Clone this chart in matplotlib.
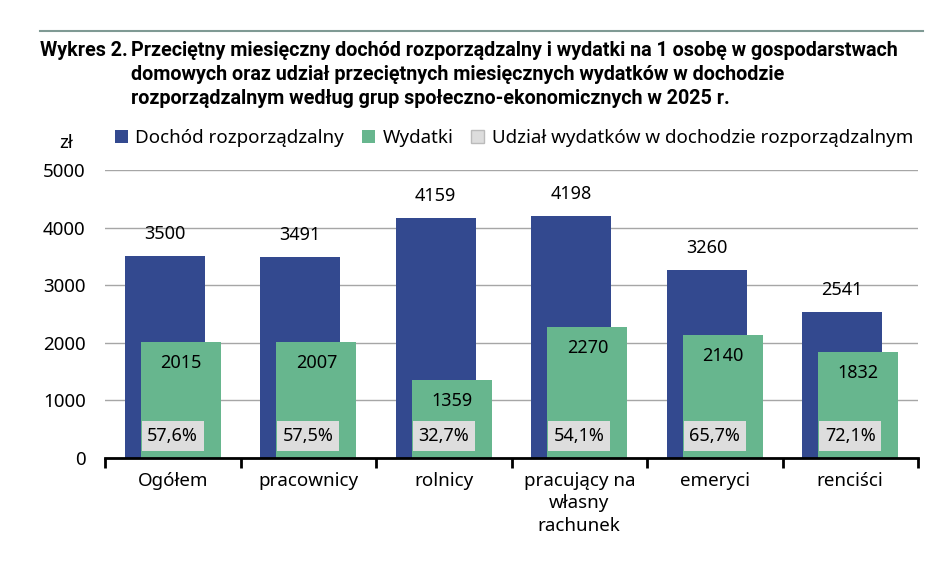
import matplotlib.pyplot as plt
from matplotlib.patches import Patch
import numpy as np

# data
categories = ['Ogółem', 'pracownicy', 'rolnicy', 'pracujący na\nwłasny\nrachunek', 'emeryci', 'renciści']
dochod = [3500, 3491, 4159, 4198, 3260, 2541]
wydatki = [2015, 2007, 1359, 2270, 2140, 1832]
udzial = [57.6, 57.5, 32.7, 54.1, 65.7, 72.1]

blue = '#33498f'
green = '#67b68e'
grey = '#dddddd'

plt.rcParams['font.family'] = ['Noto Sans', 'DejaVu Sans']

fig = plt.figure(figsize=(9.45, 5.62), dpi=100)
ax = fig.add_axes([105/945, 1 - 458/562, 813/945, 288/562])

x = np.arange(len(categories))
w = 0.59
off = 0.06
ax.bar(x - off, dochod, w, color=blue, zorder=2)
ax.bar(x + off, wydatki, w, color=green, zorder=3)

fs = 13
for i in range(len(x)):
    ax.annotate(str(dochod[i]), (x[i] - off, dochod[i]), xytext=(0, 22), textcoords='offset pixels',
                ha='center', va='center', fontsize=fs, zorder=5)
    ax.annotate(str(wydatki[i]), (x[i] + off, wydatki[i]), xytext=(0, -21), textcoords='offset pixels',
                ha='center', va='center', fontsize=fs, zorder=5)
    ax.text(x[i], 380, ('%.1f%%' % udzial[i]).replace('.', ','), ha='center', va='center', fontsize=fs,
            zorder=6, bbox=dict(boxstyle='square,pad=0.32', facecolor=grey, edgecolor='none'))

ax.set_xlim(-0.5, len(x) - 0.5)
ax.set_ylim(0, 5000)
ax.set_yticks(range(0, 5001, 1000))
ax.set_xticks(x)
ax.set_xticklabels(categories, fontsize=13.5, linespacing=1.32)
ax.set_xticks(np.arange(-0.5, len(x)), minor=True)
ax.tick_params(axis='x', which='major', length=0, pad=10)
ax.tick_params(axis='x', which='minor', length=7, width=2, direction='out', color='black')
ax.tick_params(axis='y', length=0, pad=14, labelsize=13.5)

ax.grid(axis='y', color='#a6a6a6', linewidth=1, zorder=0)
ax.set_axisbelow(True)
for s in ['top', 'right', 'left']:
    ax.spines[s].set_visible(False)
ax.spines['bottom'].set_linewidth(2)
ax.spines['bottom'].set_zorder(7)

fig.text(66/945, 1 - 143/562, 'zł', ha='center', va='center', fontsize=13.5)

handles = [Patch(facecolor=blue), Patch(facecolor=green), Patch(facecolor=grey, edgecolor='#bbbbbb')]
labels = ['Dochód rozporządzalny', 'Wydatki', 'Udział wydatków w dochodzie rozporządzalnym']
fig.legend(handles, labels, ncol=3, loc='center', bbox_to_anchor=(514/945, 1 - 138/562), frameon=False,
           fontsize=13.5, handlelength=0.7, handleheight=0.7, handletextpad=0.4, columnspacing=0.95)

# title and top rule
fig.add_artist(plt.Line2D([40/945, 923/945], [1 - 31/562, 1 - 31/562], color='#7f9a94', linewidth=1.5))
tfs = 14.2
fig.text(40/945, 1 - 50/562, 'Wykres 2.', fontsize=tfs, fontweight='bold', va='center', family='Roboto')
fig.text(131/945, 1 - 50/562, 'Przeciętny miesięczny dochód rozporządzalny i wydatki na 1 osobę w gospodarstwach',
         fontsize=tfs, fontweight='bold', va='center', family='Roboto')
fig.text(131/945, 1 - 74/562, 'domowych oraz udział przeciętnych miesięcznych wydatków w dochodzie',
         fontsize=tfs, fontweight='bold', va='center', family='Roboto')
fig.text(131/945, 1 - 98/562, 'rozporządzalnym według grup społeczno-ekonomicznych w 2025 r.',
         fontsize=tfs, fontweight='bold', va='center', family='Roboto')

fig.savefig('out.png', dpi=100)
